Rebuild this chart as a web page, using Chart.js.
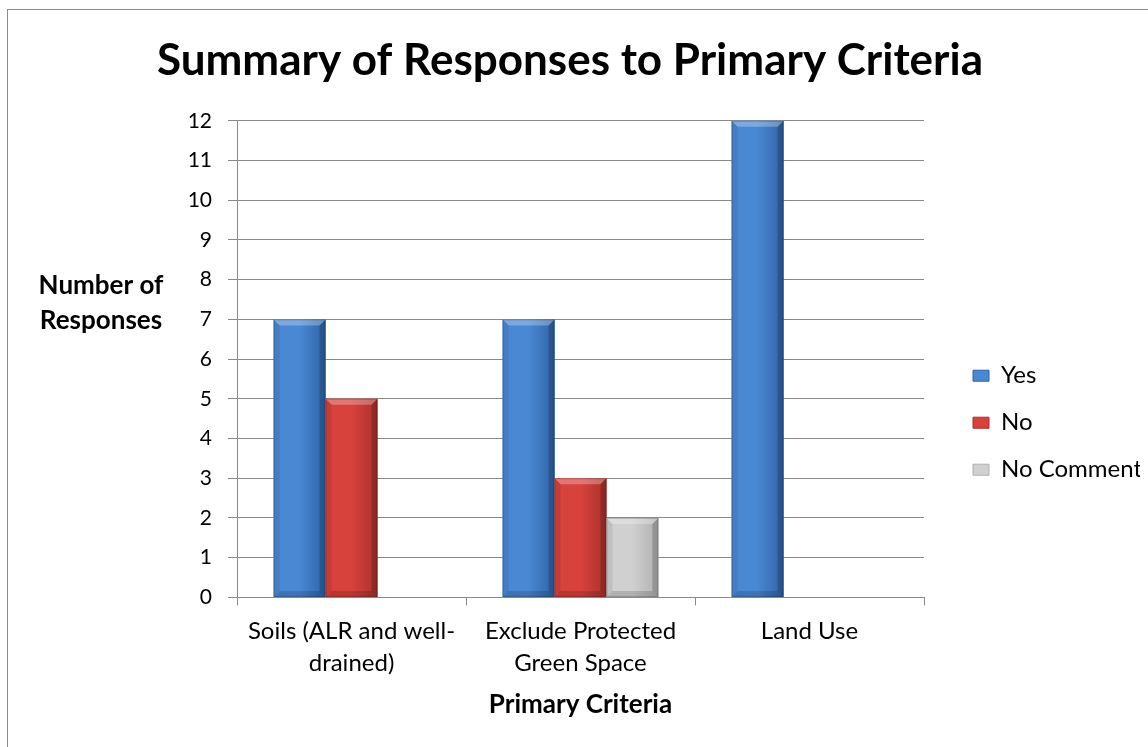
<!DOCTYPE html>
<html>
<head>
<meta charset="utf-8">
<title>Summary of Responses to Primary Criteria</title>
<script src="https://cdn.jsdelivr.net/npm/chart.js@4.4.1/dist/chart.umd.min.js"></script>
<style>
  html, body { margin: 0; padding: 0; background: #fff; }
  #wrap { position: relative; width: 1148px; height: 747px; }
  #frame {
    position: absolute; left: 7px; top: 9px; right: -2px; bottom: -2px;
    border-left: 1px solid #8a8a8a; border-top: 1px solid #8a8a8a;
    pointer-events: none;
  }
</style>
</head>
<body>
<div id="wrap">
  <canvas id="chart" width="1148" height="747"></canvas>
  <div id="frame"></div>
</div>
<script>
// chart values
const categories = [
    ['Soils (ALR and well-', 'drained)'],
    ['Exclude Protected', 'Green Space'],
    'Land Use'
];
const seriesNames = ['Yes', 'No', 'No Comment'];
const yesValues = [7, 7, 12];
const noValues = [5, 3, 0];
const noCommentValues = [0, 2, 0];
const yTicks = [0, 1, 2, 3, 4, 5, 6, 7, 8, 9, 10, 11, 12];

const FONT = 'Lato, "Open Sans", sans-serif';
const GRID = '#898989';

// base colours of the bars: [edge, middle]
const barColors = {
    'Yes': ['#2f63a6', '#4a88d4'],
    'No': ['#a9312c', '#d8423c'],
    'No Comment': ['#b0b0b0', '#d0d0d0']
};

// draws the bevel look on top of each bar, using the bar element geometry
const bevelPlugin = {
    id: 'bevel',
    afterDatasetsDraw(chart) {
        const ctx = chart.ctx;
        chart.data.datasets.forEach((ds, di) => {
            const meta = chart.getDatasetMeta(di);
            meta.data.forEach((bar, i) => {
                if (!ds.data[i]) return;
                const left = bar.x - bar.width / 2;
                const right = bar.x + bar.width / 2;
                const top = Math.min(bar.y, bar.base);
                const bottom = Math.max(bar.y, bar.base);
                const w = right - left;
                const cols = barColors[ds.label];

                ctx.save();
                // body gradient
                let g = ctx.createLinearGradient(left, 0, right, 0);
                g.addColorStop(0, cols[1]);
                g.addColorStop(0.5, cols[1]);
                g.addColorStop(1, cols[0]);
                ctx.fillStyle = g;
                ctx.fillRect(left, top, w, bottom - top);

                const b = 6;
                // top bevel
                ctx.beginPath();
                ctx.moveTo(left, top);
                ctx.lineTo(right, top);
                ctx.lineTo(right - b, top + b);
                ctx.lineTo(left + b, top + b);
                ctx.closePath();
                ctx.fillStyle = 'rgba(255,255,255,0.28)';
                ctx.fill();
                // left bevel
                ctx.beginPath();
                ctx.moveTo(left, top);
                ctx.lineTo(left + b, top + b);
                ctx.lineTo(left + b, bottom - b);
                ctx.lineTo(left, bottom);
                ctx.closePath();
                ctx.fillStyle = 'rgba(0,0,0,0.08)';
                ctx.fill();
                // right bevel
                ctx.beginPath();
                ctx.moveTo(right, top);
                ctx.lineTo(right - b, top + b);
                ctx.lineTo(right - b, bottom - b);
                ctx.lineTo(right, bottom);
                ctx.closePath();
                ctx.fillStyle = 'rgba(0,0,0,0.18)';
                ctx.fill();
                // bottom bevel
                ctx.beginPath();
                ctx.moveTo(left, bottom);
                ctx.lineTo(right, bottom);
                ctx.lineTo(right - b, bottom - b);
                ctx.lineTo(left + b, bottom - b);
                ctx.closePath();
                ctx.fillStyle = 'rgba(0,0,0,0.15)';
                ctx.fill();
                // outline
                ctx.strokeStyle = 'rgba(0,0,0,0.18)';
                ctx.lineWidth = 1;
                ctx.strokeRect(left + 0.5, top + 0.5, w - 1, bottom - top - 1);
                ctx.restore();
            });
        });
    }
};

// horizontal y-axis title on the left
const yTitlePlugin = {
    id: 'yTitle',
    afterDraw(chart) {
        const ctx = chart.ctx;
        ctx.save();
        ctx.font = 'bold 26px ' + FONT;
        ctx.fillStyle = '#000';
        ctx.textAlign = 'center';
        ctx.textBaseline = 'middle';
        ctx.fillText('Number of', 101, 286);
        ctx.fillText('Responses', 101, 321);
        ctx.restore();
    }
};

const dataValues = [yesValues, noValues, noCommentValues];

const datasets = seriesNames.map((name, k) => ({
    label: name,
    data: dataValues[k],
    backgroundColor: barColors[name][1],
    borderWidth: 0,
    barPercentage: 1,
    categoryPercentage: 0.68
}));

new Chart(document.getElementById('chart'), {
    type: 'bar',
    data: { labels: categories, datasets: datasets },
    options: {
        responsive: false,
        animation: false,
        layout: { padding: { left: 0, right: 8, top: 0, bottom: 28 } },
        plugins: {
            title: {
                display: true,
                text: 'Summary of Responses to Primary Criteria',
                color: '#000',
                font: { family: FONT, size: 44, weight: 'bold', lineHeight: 1.2 },
                padding: { top: 34, bottom: 34 }
            },
            legend: {
                position: 'right',
                fullSize: false,
                title: {
                    display: true,
                    text: ' ',
                    font: { size: 6, lineHeight: 1.2 },
                    padding: { top: 60, bottom: 60 }
                },
                labels: {
                    color: '#000',
                    font: { family: FONT, size: 24 },
                    boxWidth: 16,
                    boxHeight: 11,
                    padding: 23,
                    generateLabels(chart) {
                        // trailing spaces keep the last label from being cut at the legend edge
                        return chart.data.datasets.map((ds, i) => ({
                            text: ds.label + '\u00a0\u00a0',
                            fillStyle: barColors[ds.label][1],
                            strokeStyle: barColors[ds.label][0],
                            fontColor: '#000',
                            lineWidth: 1,
                            datasetIndex: i
                        }));
                    }
                }
            },
            tooltip: { enabled: false }
        },
        scales: {
            x: {
                grid: {
                    offset: true,
                    drawOnChartArea: true,
                    color: (c) => c.index === categories.length ? GRID : 'rgba(0,0,0,0)',
                    tickColor: GRID,
                    tickLength: 8
                },
                border: { color: GRID },
                ticks: {
                    color: '#000',
                    font: { family: FONT, size: 24, lineHeight: 1.333 },
                    padding: 10,
                    maxRotation: 0
                },
                title: {
                    display: true,
                    text: 'Primary Criteria',
                    color: '#000',
                    font: { family: FONT, size: 26, weight: 'bold', lineHeight: 1.1 },
                    padding: { top: 1, bottom: 0 }
                }
            },
            y: {
                min: yTicks[0],
                max: yTicks[yTicks.length - 1],
                afterBuildTicks(scale) {
                    scale.ticks = yTicks.map(v => ({ value: v }));
                },
                afterFit(scale) { scale.width = 237; },
                grid: { color: GRID, tickColor: GRID, tickLength: 9 },
                border: { color: GRID },
                ticks: {
                    color: '#000',
                    font: { family: FONT, size: 21 },
                    padding: 16
                }
            },
            // empty spacer between the plot and the legend
            gap: {
                type: 'linear',
                position: 'right',
                display: true,
                grid: { display: false },
                border: { display: false },
                ticks: { display: false },
                afterFit(scale) { scale.width = 26; }
            }
        }
    },
    plugins: [bevelPlugin, yTitlePlugin]
});
</script>
</body>
</html>
